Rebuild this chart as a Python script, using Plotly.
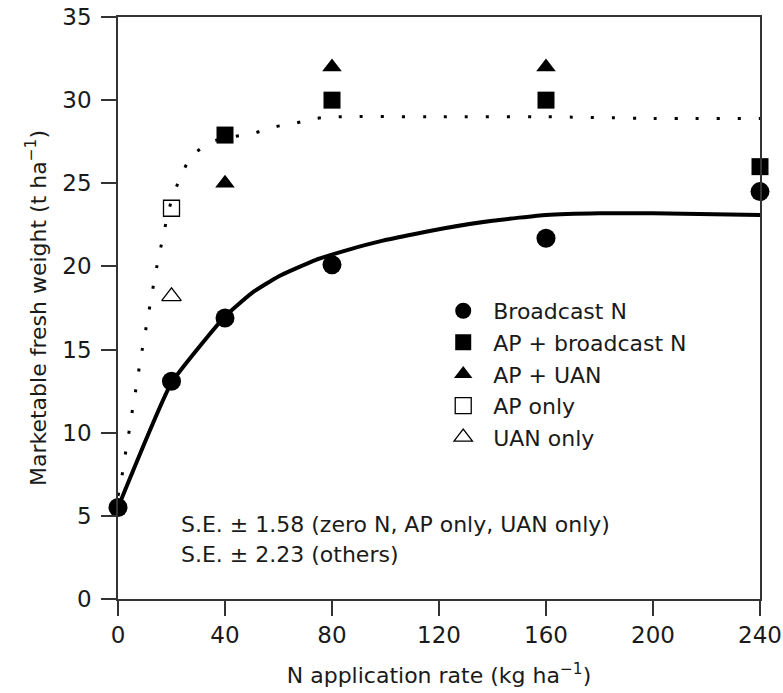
import plotly.graph_objects as go

# ---- data ----
bc_x = [0, 20, 40, 80, 160, 240]
bc_y = [5.5, 13.1, 16.9, 20.1, 21.7, 24.5]

apbc_x = [40, 80, 160, 240]
apbc_y = [27.9, 30.0, 30.0, 26.0]

apuan_x = [40, 80, 160]
apuan_y = [25.0, 32.0, 32.0]

aponly_x = [20]
aponly_y = [23.5]

uanonly_x = [20]
uanonly_y = [18.2]

# fitted response curves
fit_bc_x = [0, 20, 40, 50, 60, 74, 86, 99, 111, 122, 140, 160, 180, 200, 240]
fit_bc_y = [5.5, 13.0, 17.0, 18.4, 19.4, 20.4, 21.0, 21.55, 21.95, 22.3, 22.75,
            23.1, 23.2, 23.2, 23.1]

fit_ap_x = [0, 0.75, 2.0, 3.2, 4.5, 5.7, 7.0, 8.2, 9.5, 10.8, 12.2, 13.5, 15.0,
            16.6, 18.3, 20.2, 23.2, 27.3, 35, 43, 50.5, 58.7, 66, 74, 82, 120,
            160, 200, 240]
fit_ap_y = [6.2, 6.75, 7.9, 9.2, 10.4, 11.7, 12.9, 14.2, 15.4, 16.6, 17.9, 19.1,
            20.4, 21.6, 22.9, 24.1, 25.3, 26.6, 27.5, 27.8, 28.0, 28.4, 28.6,
            28.9, 29.0, 29.0, 29.0, 28.9, 28.9]

x_ticks = [0, 40, 80, 120, 160, 200, 240]
y_ticks = [0, 5, 10, 15, 20, 25, 30, 35]

FONT = "DejaVu Sans"
INK = "#1a1a1a"

fig = go.Figure()

fig.add_trace(go.Scatter(x=fit_ap_x, y=fit_ap_y, mode="lines", showlegend=False,
                         line=dict(color="black", width=3, dash="3px,18px", shape="spline", smoothing=0.6),
                         hoverinfo="skip"))
fig.add_trace(go.Scatter(x=fit_bc_x, y=fit_bc_y, mode="lines", showlegend=False,
                         line=dict(color="black", width=4, shape="spline", smoothing=0.4),
                         hoverinfo="skip"))

fig.add_trace(go.Scatter(x=bc_x, y=bc_y, mode="markers", name="Broadcast N", cliponaxis=False,
                         marker=dict(symbol="circle", size=19, color="black")))
fig.add_trace(go.Scatter(x=apbc_x, y=apbc_y, mode="markers", name="AP + broadcast N", cliponaxis=False,
                         marker=dict(symbol="square", size=17, color="black")))
fig.add_trace(go.Scatter(x=apuan_x, y=apuan_y, mode="markers", name="AP + UAN", cliponaxis=False,
                         marker=dict(symbol="triangle-up", size=17, color="black")))
fig.add_trace(go.Scatter(x=aponly_x, y=aponly_y, mode="markers", name="AP only", cliponaxis=False,
                         marker=dict(symbol="square-open", size=16, color="black", line=dict(width=1.3))))
fig.add_trace(go.Scatter(x=uanonly_x, y=uanonly_y, mode="markers", name="UAN only", cliponaxis=False,
                         marker=dict(symbol="triangle-up-open", size=17, color="black", line=dict(width=1.3))))

axis_common = dict(showgrid=False, zeroline=False, showline=True, linecolor="#333",
                   linewidth=1.5, mirror=True, ticks="outside", ticklen=15, tickwidth=1.5,
                   tickcolor="#333", automargin=False, ticklabeloverflow="allow",
                   tickfont=dict(family=FONT, size=23, color=INK))

fig.update_xaxes(range=[0, 240], tickvals=x_ticks, ticktext=[str(v) for v in x_ticks],
                 title=dict(text="N application rate (kg ha<sup>−1</sup>)",
                            font=dict(family=FONT, size=22, color=INK), standoff=20),
                 ticklabelstandoff=0, **axis_common)
fig.update_yaxes(range=[0, 35], tickvals=y_ticks, ticktext=[str(v) for v in y_ticks],
                 title=dict(text="Marketable fresh weight (t ha<sup>−1</sup>)",
                            font=dict(family=FONT, size=22, color=INK), standoff=10),
                 ticklabelstandoff=5, **axis_common)

fig.add_annotation(x=0.095, y=0.128, xref="paper", yref="paper", xanchor="left", yanchor="middle",
                   text="S.E. ± 1.58 (zero N, AP only, UAN only)", showarrow=False,
                   font=dict(family=FONT, size=22, color=INK))
fig.add_annotation(x=0.095, y=0.077, xref="paper", yref="paper", xanchor="left", yanchor="middle",
                   text="S.E. ± 2.23 (others)", showarrow=False,
                   font=dict(family=FONT, size=22, color=INK))

fig.update_layout(
    width=783, height=693,
    margin=dict(l=118, r=23, t=17, b=94),
    paper_bgcolor="white", plot_bgcolor="white",
    font=dict(family=FONT, size=22, color=INK),
    legend=dict(x=0.491, y=0.531, xanchor="left", yanchor="top", bgcolor="rgba(0,0,0,0)",
                font=dict(family=FONT, size=22, color=INK), itemwidth=50, tracegroupgap=0),
    showlegend=True,
)

fig.write_html("out.html", config={"displayModeBar": False},
               post_script="document.body.style.margin='0';document.body.style.overflow='hidden';")
